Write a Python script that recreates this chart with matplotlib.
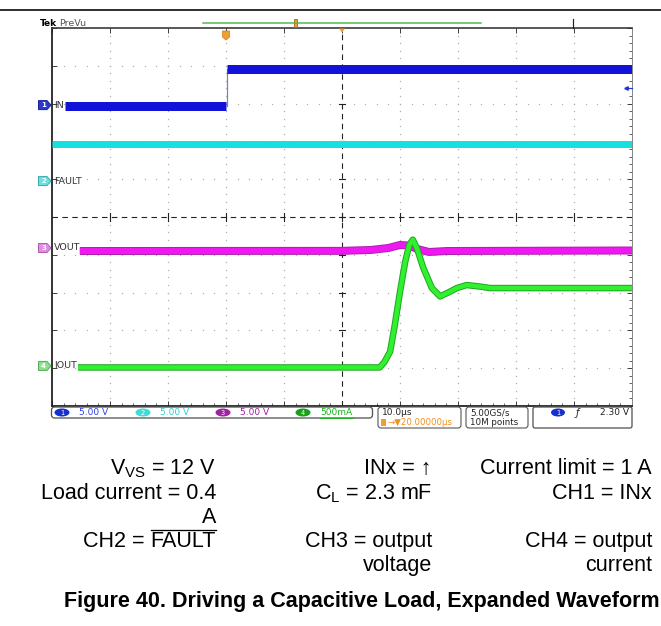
import matplotlib
matplotlib.use("Agg")
import matplotlib.pyplot as plt
from matplotlib.patches import FancyBboxPatch, Polygon, Ellipse, Rectangle
from matplotlib.ticker import MultipleLocator

plt.rcParams['mathtext.fontset'] = 'custom'
plt.rcParams['mathtext.rm'] = 'Liberation Sans'
plt.rcParams['mathtext.it'] = 'Liberation Sans:italic'
plt.rcParams['mathtext.bf'] = 'Liberation Sans:bold'

# ---------------- data ----------------
t_min, t_max = -30.0, 70.0          # time relative to trigger, us (10 us/div)
v_min, v_max = -5.0, 5.0            # screen divisions

ch_names = ["IN", "FAULT", "VOUT", "IOUT"]
ch_scale = [5.0, 5.0, 5.0, 0.5]     # V/div, V/div, V/div, A/div
ch_pos = [2.96, 0.95, -0.82, -3.94] # ground marker position, divisions

in_low_t = [-27.8, 0.0]
in_low_v = [-0.1, -0.1]
in_high_t = [0.2, 70.0]
in_high_v = [4.83, 4.83]

fault_t = [-30.0, 70.0]
fault_v = [4.96, 4.96]

vout_t = [-25.2, 20.0, 25.0, 28.0, 30.0, 31.5, 33.0, 35.0, 38.0, 70.0]
vout_v = [-0.40, -0.38, -0.26, 0.0, 0.40, 0.33, -0.13, -0.53, -0.40, -0.33]

iout_t = [-25.5, 26.5, 27.3, 28.3, 29.1, 30.0, 30.9, 31.6, 32.2, 32.9,
          34.0, 35.5, 36.9, 38.3, 39.8, 41.5, 43.8, 45.5, 70.0]
iout_a = [-0.02, -0.02, 0.05, 0.19, 0.54, 0.98, 1.38, 1.60, 1.67, 1.56,
          1.30, 1.03, 0.92, 0.97, 1.03, 1.07, 1.05, 1.03, 1.03]

scale_labels = ["5.00 V", "5.00 V", "5.00 V", "500mA"]
timebase_label = "10.0\u03bcs"
delay_label = "\u2192\u25bc20.00000\u03bcs"
rate_label = "5.00GS/s"
points_label = "10M points"
trig_label = "2.30 V"

notes_col1 = ["V$_{\\mathregular{VS}}$ = 12 V", "Load current = 0.4", "A"]
fault_prefix = "CH2 = "
fault_name = "FAULT"
notes_col2 = ["INx = \u2191", "C$_{\\mathregular{L}}$ = 2.3 mF", "CH3 = output", "voltage"]
notes_col3 = ["Current limit = 1 A", "CH1 = INx", "CH4 = output", "current"]
caption = "Figure 40. Driving a Capacitive Load, Expanded Waveform"

# ---------------- figure ----------------
W, H, DPI = 661, 626, 100
def px(n):
    return n * 72.0 / DPI

fig = plt.figure(figsize=(W / DPI, H / DPI), dpi=DPI)
L, T, R, B = 52, 28, 632, 406
ax = fig.add_axes([L / W, 1 - B / H, (R - L) / W, (B - T) / H])
ax.set_xlim(t_min, t_max)
ax.set_ylim(v_min, v_max)
ax.set_facecolor("white")

def div(vals, ch):
    return [ch_pos[ch] + v / ch_scale[ch] for v in vals]

# graticule dots
grid_c = "#b0b0b0"
for xv in [-20, -10, 0, 10, 30, 40, 50, 60]:
    ys = [v_min + 0.2 * k for k in range(1, 50)]
    ax.plot([xv] * len(ys), ys, ls="none", marker="s", ms=0.9, color=grid_c, mew=0)
for yv in [-4, -3, -2, -1, 1, 2, 3, 4]:
    xs = [t_min + 2 * k for k in range(1, 50)]
    ax.plot(xs, [yv] * len(xs), ls="none", marker="s", ms=0.9, color=grid_c, mew=0)

# center cross lines
ax.axvline(20, color="#222222", lw=px(1.1), dashes=(5, 4))
ax.axhline(0, color="#222222", lw=px(1.1), dashes=(5, 4))
for yv in range(-4, 5):
    ax.plot([19.5, 20.5], [yv, yv], color="#222222", lw=px(1.1))
for xv in range(-20, 70, 10):
    ax.plot([xv, xv], [-0.1, 0.1], color="#222222", lw=px(1.1))

# traces
ax.plot(in_low_t, div(in_low_v, 0), color="#1212d8", lw=px(9), solid_capstyle="butt", zorder=5)
ax.plot(in_high_t, div(in_high_v, 0), color="#1212d8", lw=px(9), solid_capstyle="butt", zorder=5)
ax.plot([0.1, 0.1], [div(in_low_v, 0)[1], div(in_high_v, 0)[0]], color="#7080c0", lw=px(1.2), zorder=4)

ax.plot(fault_t, div(fault_v, 1), color="#18e0e0", lw=px(7), solid_capstyle="butt", zorder=5)

ax.plot(vout_t, div(vout_v, 2), color="#b020b0", lw=px(8), solid_capstyle="butt", zorder=5)
ax.plot(vout_t, div(vout_v, 2), color="#f018f0", lw=px(6), solid_capstyle="butt", zorder=5)

ax.plot(iout_t, div(iout_a, 3), color="#1fa81f", lw=px(6.5), solid_capstyle="butt",
        solid_joinstyle="round", zorder=6)
ax.plot(iout_t, div(iout_a, 3), color="#30f030", lw=px(4.5), solid_capstyle="butt",
        solid_joinstyle="round", zorder=6)

# frame and ticks
ax.xaxis.set_major_locator(MultipleLocator(10))
ax.yaxis.set_major_locator(MultipleLocator(1))
ax.xaxis.set_minor_locator(MultipleLocator(2))
ax.yaxis.set_minor_locator(MultipleLocator(0.2))
ax.tick_params(which="major", direction="in", length=px(5), width=px(1), color="#444444",
               top=True, right=True, labelbottom=False, labelleft=False)
ax.tick_params(which="minor", direction="in", length=px(3), width=px(1), color="#666666",
               top=False, right=True, left=False, bottom=True)
for s, c, w in [("left", "#222222", 1.8), ("bottom", "#222222", 1.8),
                ("top", "#333333", 1.6), ("right", "#888888", 1.0)]:
    ax.spines[s].set_color(c)
    ax.spines[s].set_linewidth(px(w))

# ---------------- overlay in pixel coordinates ----------------
ov = fig.add_axes([0, 0, 1, 1], zorder=10)
ov.set_xlim(0, W)
ov.set_ylim(H, 0)
ov.axis("off")

def ypx(d):
    return T + (v_max - d) * (B - T) / (v_max - v_min)

# header
ov.plot([0, W], [10, 10], color="black", lw=px(1.6))
ov.text(40, 23.5, "Tek", fontsize=6.5, fontweight="bold", color="black", va="center", ha="left")
ov.text(59, 23.5, "PreVu", fontsize=6.8, color="#555555", va="center", ha="left")
ov.plot([203, 481], [23, 23], color="#4cb84c", lw=px(1.5))
ov.add_patch(Rectangle((293.5, 19), 3.5, 8, fc="#f0a030", ec="#b06010", lw=px(0.8)))
ov.plot([573, 573], [19, 28], color="#222222", lw=px(1.2))
ov.add_patch(Polygon([[222.5, 31], [229.5, 31], [229.5, 37], [226, 40], [222.5, 37]],
                     closed=True, fc="#f0a030", ec="#d08020", lw=px(0.8)))
ov.add_patch(Polygon([[339, 28.5], [345, 28.5], [342, 32.5]], closed=True, fc="#f0a030", ec="none"))
ov.plot([625, 632], [88, 88], color="#2233dd", lw=px(1.2))
ov.plot([626], [88], marker="<", ms=2.5, color="#2233dd")

# channel markers and labels
badge_fc = ["#2a3ad0", "#6ae0e0", "#e08ee0", "#8ee08e"]
badge_ec = ["#1a2490", "#3aaaaa", "#b060b0", "#5aaa5a"]
for i in range(4):
    y = ypx(ch_pos[i])
    ov.add_patch(Polygon([[38.5, y - 4.5], [47, y - 4.5], [51, y], [47, y + 4.5], [38.5, y + 4.5]],
                         closed=True, fc=badge_fc[i], ec=badge_ec[i], lw=px(1)))
    ov.text(43.5, y + 0.3, str(i + 1), fontsize=5, color="white", ha="center", va="center",
            fontweight="bold")
    ov.text(54, y, ch_names[i], fontsize=6.8, color="#333333", ha="left", va="center")

# status bar
box_ec = "#555555"
ov.add_patch(FancyBboxPatch((51.5, 407), 321, 11, boxstyle="round,pad=0,rounding_size=3",
                            fc="white", ec=box_ec, lw=px(1.3)))
ov.add_patch(FancyBboxPatch((378, 407), 83, 21, boxstyle="round,pad=0,rounding_size=3",
                            fc="white", ec=box_ec, lw=px(1.1)))
ov.add_patch(FancyBboxPatch((466, 407), 62, 21, boxstyle="round,pad=0,rounding_size=3",
                            fc="white", ec=box_ec, lw=px(1.1)))
ov.add_patch(FancyBboxPatch((533, 407), 99, 21, boxstyle="round,pad=0,rounding_size=2",
                            fc="white", ec=box_ec, lw=px(1.3)))

ell_fc = ["#1530d0", "#40dada", "#a020a0", "#18a018"]
txt_c = ["#3040e0", "#30d0d0", "#a020a0", "#20b020"]
ell_x = [62, 143, 223, 303]
for i in range(4):
    ov.add_patch(Ellipse((ell_x[i], 412.5), 15, 8, fc=ell_fc[i], ec="none"))
    ov.text(ell_x[i], 412.8, str(i + 1), fontsize=4.8, color="white", ha="center", va="center")
    ov.text(ell_x[i] + 17, 412.8, scale_labels[i], fontsize=6.5, color=txt_c[i],
            ha="left", va="center")
ov.plot([320, 353], [417.5, 417.5], color="#20b020", lw=px(1))

ov.text(382, 412.8, timebase_label, fontsize=6.5, color="#222222", ha="left", va="center")
ov.add_patch(Rectangle((381, 418.5), 5, 7, fc="#f0a030", ec="none"))
ov.text(387, 422.5, delay_label, fontsize=6.2, color="#f09020", ha="left", va="center")
ov.text(470, 412.8, rate_label, fontsize=6.3, color="#222222", ha="left", va="center")
ov.text(470, 422.8, points_label, fontsize=6.3, color="#222222", ha="left", va="center")
ov.add_patch(Ellipse((558, 412.5), 14, 8, fc="#1530d0", ec="none"))
ov.text(558, 412.8, "1", fontsize=4.8, color="white", ha="center", va="center")
ov.text(577, 412.8, "\u0192", fontsize=7, color="#222222", ha="center", va="center", style="italic")
ov.text(629, 412.8, trig_label, fontsize=6.5, color="#222222", ha="right", va="center")

# notes
fam = ["Liberation Sans", "DejaVu Sans"]
fs = 15.5
col1_y = [474, 499, 523]
col2_y = [474, 499, 547, 571]
col3_y = [474, 499, 547, 571]
for s, y in zip(notes_col1, col1_y):
    ov.text(216, y, s, fontsize=fs, family=fam, ha="right", va="baseline", color="black")
ft = ov.text(216, 547, fault_name, fontsize=fs, family=fam, ha="right", va="baseline", color="black")
fig.canvas.draw()
bb = ft.get_window_extent(renderer=fig.canvas.get_renderer())
x0 = ov.transData.inverted().transform((bb.x0, bb.y0))[0]
ov.plot([x0 + 0.5, 216], [529.5, 529.5], color="black", lw=px(1.3))
ov.text(x0, 547, fault_prefix, fontsize=fs, family=fam, ha="right", va="baseline", color="black")
for s, y in zip(notes_col2, col2_y):
    ov.text(432, y, s, fontsize=fs, family=fam, ha="right", va="baseline", color="black")
for s, y in zip(notes_col3, col3_y):
    ov.text(652, y, s, fontsize=fs, family=fam, ha="right", va="baseline", color="black")
ov.text(660, 607, caption, fontsize=15.5, family=fam, fontweight="bold", ha="right",
        va="baseline", color="black")

fig.savefig("out.png", dpi=DPI)
